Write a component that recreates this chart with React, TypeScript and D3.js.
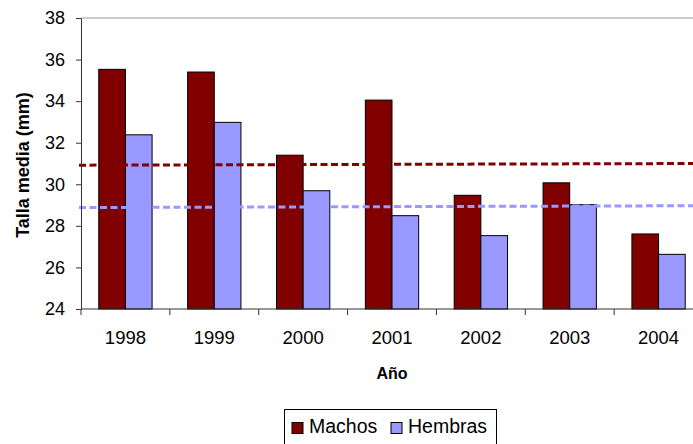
import React, { useEffect, useRef } from 'react';
import * as d3 from 'd3';

const years = ['1998', '1999', '2000', '2001', '2002', '2003', '2004'];
const machos = [35.53, 35.4, 31.4, 34.05, 29.47, 30.07, 27.61];
const hembras = [32.38, 32.98, 29.69, 28.49, 27.53, 29.02, 26.63];
const series = ['Machos', 'Hembras'];
const seriesColors = ['#800000', '#9999FF'];
// reference lines (start, end)
const refMachos = [30.92, 31.0];
const refHembras = [28.88, 28.97];
const yTicks = [24, 26, 28, 30, 32, 34, 36, 38];

const FONT = 'Arial, "Liberation Sans", sans-serif';

const App: React.FC = () => {
  const ref = useRef<SVGSVGElement | null>(null);

  useEffect(() => {
    if (!ref.current) return;
    const svg = d3.select(ref.current);
    svg.selectAll('*').remove();

    const left = 81;
    const right = 703;
    const top = 18;
    const bottom = 309;

    const x = d3.scaleBand().domain(years).range([left, right]).paddingInner(0.4).paddingOuter(0.2);
    const xStep = d3.scaleBand().domain(years).range([left, right]);
    const xSub = d3.scaleBand().domain(series).range([0, x.bandwidth()]);
    const y = d3.scaleLinear().domain([24, 38]).range([bottom, top]);

    // top border of plot area
    svg
      .append('line')
      .attr('x1', left)
      .attr('x2', right)
      .attr('y1', top)
      .attr('y2', top)
      .attr('stroke', '#999')
      .attr('stroke-width', 1);

    // bars
    const rows = years.map((yr, i) => ({ yr, values: [machos[i], hembras[i]] }));
    const g = svg
      .selectAll('.grp')
      .data(rows)
      .enter()
      .append('g')
      .attr('transform', (d) => `translate(${x(d.yr)},0)`);
    g.selectAll('rect')
      .data((d) => d.values.map((v, j) => ({ s: series[j], v, c: seriesColors[j] })))
      .enter()
      .append('rect')
      .attr('x', (d) => xSub(d.s) as number)
      .attr('y', (d) => y(d.v))
      .attr('width', xSub.bandwidth())
      .attr('height', (d) => bottom - y(d.v))
      .attr('fill', (d) => d.c)
      .attr('stroke', '#000')
      .attr('stroke-width', 1);

    // reference dashed lines
    [
      { vals: refMachos, c: seriesColors[0] },
      { vals: refHembras, c: seriesColors[1] },
    ].forEach((r) => {
      svg
        .append('line')
        .attr('x1', left - 2)
        .attr('x2', right)
        .attr('y1', y(r.vals[0]))
        .attr('y2', y(r.vals[1]))
        .attr('stroke', r.c)
        .attr('stroke-width', 3)
        .attr('stroke-dasharray', '7,3.5');
    });

    // y axis
    const yAxis = d3.axisLeft(y).tickValues(yTicks).tickSize(5).tickPadding(11).tickSizeOuter(0);
    const ya = svg.append('g').attr('transform', `translate(${left},0)`).call(yAxis);
    ya.select('.domain').attr('stroke', '#333');
    ya.selectAll('.tick line').attr('stroke', '#333');
    ya.selectAll('.tick text')
      .style('font-family', FONT)
      .style('font-size', '18px')
      .attr('fill', '#000');

    // x axis
    svg
      .append('line')
      .attr('x1', left)
      .attr('x2', right)
      .attr('y1', bottom)
      .attr('y2', bottom)
      .attr('stroke', '#333');
    svg
      .selectAll('.xtick')
      .data(years)
      .enter()
      .append('line')
      .attr('x1', (d) => xStep(d) as number)
      .attr('x2', (d) => xStep(d) as number)
      .attr('y1', bottom)
      .attr('y2', bottom + 6)
      .attr('stroke', '#333');
    svg
      .selectAll('.xlabel')
      .data(years)
      .enter()
      .append('text')
      .attr('x', (d) => (xStep(d) as number) + xStep.bandwidth() / 2)
      .attr('y', 344)
      .attr('text-anchor', 'middle')
      .style('font-family', FONT)
      .style('font-size', '18.5px')
      .text((d) => d);

    // axis titles
    svg
      .append('text')
      .attr('x', 392)
      .attr('y', 379)
      .attr('text-anchor', 'middle')
      .style('font-family', FONT)
      .style('font-size', '16px')
      .style('font-weight', 'bold')
      .text('Año');
    svg
      .append('text')
      .attr('transform', 'translate(28.5,165) rotate(-90)')
      .attr('text-anchor', 'middle')
      .style('font-family', FONT)
      .style('font-size', '18px')
      .style('font-weight', 'bold')
      .text('Talla media (mm)');

    // legend
    const lg = svg.append('g');
    lg.append('rect')
      .attr('x', 284.5)
      .attr('y', 409.5)
      .attr('width', 212)
      .attr('height', 40)
      .attr('fill', '#fff')
      .attr('stroke', '#000');
    const items = [
      { name: series[0], c: seriesColors[0], sx: 292, tx: 309 },
      { name: series[1], c: seriesColors[1], sx: 391, tx: 408 },
    ];
    items.forEach((it) => {
      lg.append('rect')
        .attr('x', it.sx)
        .attr('y', 422.5)
        .attr('width', 11)
        .attr('height', 11)
        .attr('fill', it.c)
        .attr('stroke', '#000');
      lg.append('text')
        .attr('x', it.tx)
        .attr('y', 433)
        .style('font-family', FONT)
        .style('font-size', '19.5px')
        .text(it.name);
    });
  }, []);

  return (
    <svg
      ref={ref}
      width={693}
      height={444}
      style={{ position: 'absolute', left: 0, top: 0, background: '#fff' }}
    ></svg>
  );
};

export default App;
